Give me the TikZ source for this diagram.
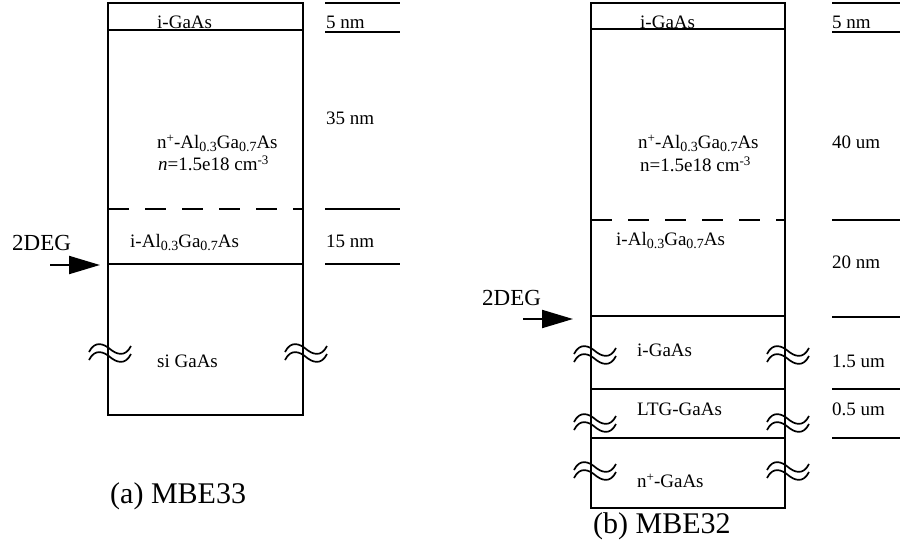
\documentclass[tikz,border=0pt]{standalone}
\usepackage{fontspec}
\setmainfont{Liberation Serif}
\usetikzlibrary{arrows.meta}
\newcommand{\lo}[1]{\raisebox{-3.5pt}{\fontsize{14}{14}\selectfont #1}}
\newcommand{\hi}[1]{\raisebox{6pt}{\fontsize{13}{13}\selectfont #1}}

\begin{document}
\begin{tikzpicture}[x=1pt,y=-1pt,font=\fontsize{19}{21}\selectfont,
 wall/.style={line width=1.6pt},
 cut/.style={line width=1.6pt,dash pattern=on 21pt off 16pt},
 tick/.style={line width=1.3pt},
 lbl/.style={anchor=base west,inner sep=0pt},
 deg/.style={lbl,font=\fontsize{23}{25}\selectfont},
 capt/.style={lbl,font=\fontsize{30}{32}\selectfont},
 feed/.style={line width=2pt,-{Triangle[length=31pt,width=18pt]}},
 wv/.pic={\draw[line width=1.7pt] (-21,-1) .. controls (-15,-13) and (-6,-9) .. (0,-4) .. controls (6,1) and (15,5) .. (21,-7)
   (-21,7) .. controls (-15,-5) and (-6,-1) .. (0,4) .. controls (6,9) and (15,13) .. (21,1);}]
\useasboundingbox (0,0) rectangle (900,546);
% (a) MBE33
\draw[wall] (108,3) rectangle (303,415);
\draw[wall] (108,30) -- (303,30) (108,264) -- (303,264);
\draw[cut] (108,209) -- (303,209);
\draw[tick] (325,3) -- (400,3) (325,32) -- (400,32) (325,209) -- (400,209) (325,264) -- (400,264);
\node[lbl] (capA) at (157,28) {i-GaAs};
\node[lbl] (tA1) at (326,28) {5 nm};
\node[lbl] (dopA) at (157,148) {n\hi{+}-Al\lo{0.3}Ga\lo{0.7}As};
\node[lbl] (concA) at (158,170) {\textit{n}=1.5e18 cm\hi{-3}};
\node[lbl] (tA2) at (326,124) {35 nm};
\node[lbl] (spcA) at (130,247) {i-Al\lo{0.3}Ga\lo{0.7}As};
\node[lbl] (tA3) at (326,247) {15 nm};
\node[lbl] (subA) at (157,367) {si GaAs};
\node[deg] (degA) at (12,250) {2DEG};
\coordinate (arrA) at (50,265);
\coordinate (hetA) at (100,265);
\draw[feed] (arrA) -- (hetA);
\path (110,353) pic {wv} (306,353) pic {wv};
\node[capt] (nameA) at (110,503) {(a) MBE33};
% (b) MBE32
\draw[wall] (591,3) rectangle (785,508);
\draw[wall] (591,29) -- (785,29) (591,316) -- (785,316) (591,389) -- (785,389) (591,438) -- (785,438);
\draw[cut] (591,220) -- (785,220);
\draw[tick] (832,3) -- (900,3) (832,32) -- (900,32) (832,220) -- (900,220) (832,317) -- (900,317) (832,389) -- (900,389) (832,438) -- (900,438);
\node[lbl] (capB) at (640,28) {i-GaAs};
\node[lbl] (tB1) at (832,28) {5 nm};
\node[lbl] (dopB) at (638,148) {n\hi{+}-Al\lo{0.3}Ga\lo{0.7}As};
\node[lbl] (concB) at (640,171) {n=1.5e18 cm\hi{-3}};
\node[lbl] (tB2) at (832,148) {40 um};
\node[lbl] (spcB) at (616,245) {i-Al\lo{0.3}Ga\lo{0.7}As};
\node[lbl] (tB3) at (832,268) {20 nm};
\node[lbl] (bufB) at (637,356) {i-GaAs};
\node[lbl] (tB4) at (832,367) {1.5 um};
\node[lbl] (ltgB) at (637,415) {LTG-GaAs};
\node[lbl] (tB5) at (832,415) {0.5 um};
\node[lbl] (subB) at (637,487) {n\hi{+}-GaAs};
\node[deg] (degB) at (482,305) {2DEG};
\coordinate (arrB) at (523,319);
\coordinate (hetB) at (573,319);
\draw[feed] (arrB) -- (hetB);
\path (595,355) pic {wv} (788,355) pic {wv} (595,423) pic {wv} (788,423) pic {wv} (595,471) pic {wv} (788,471) pic {wv};
\node[capt] (nameB) at (593,533) {(b) MBE32};
\end{tikzpicture}
\end{document}
